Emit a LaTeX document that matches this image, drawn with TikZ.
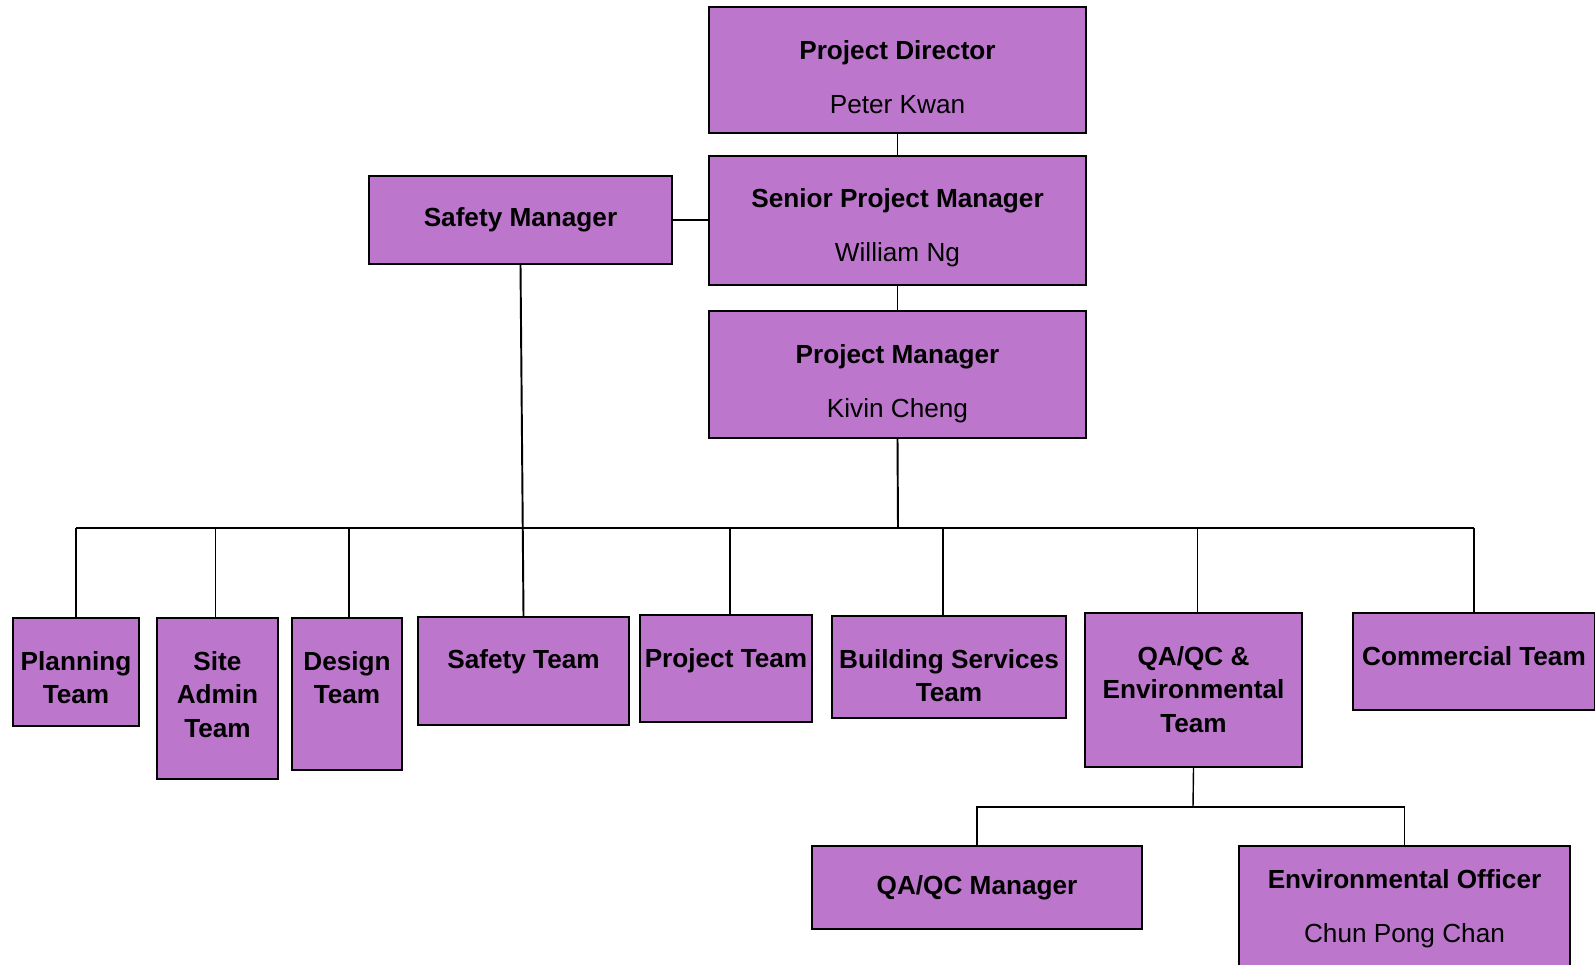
\documentclass[tikz,border=0pt]{standalone}
\usepackage{fontspec}
\setmainfont{Liberation Sans}
\usetikzlibrary{fit}
\definecolor{orgpurple}{RGB}{188,118,204}

\begin{document}
\begin{tikzpicture}[x=0.02cm, y=-0.02cm,
  box/.style={draw=black, fill=orgpurple, line width=1.3pt, inner sep=0pt},
  txt/.style={font=\fontsize{14.9}{19.2}\selectfont\bfseries, align=center, anchor=north, inner sep=0pt},
  link/.style={black, line width=1.1pt}]
\useasboundingbox (0,0) rectangle (1595,964);

% management boxes
\node[box, fit={(709,7) (1086,133)}] (pd) {};
\node[box, fit={(709,156) (1086,285)}] (spm) {};
\node[box, fit={(709,311) (1086,438)}] (pm) {};
\node[box, fit={(369,176) (672,264)}] (sm) {};

% team boxes
\node[box, fit={(13,618) (139,726)}] (plan) {};
\node[box, fit={(157,618) (278,779)}] (sa) {};
\node[box, fit={(292,618) (402,770)}] (des) {};
\node[box, fit={(418,617) (629,725)}] (st) {};
\node[box, fit={(640,615) (812,722)}] (pt) {};
\node[box, fit={(832,616) (1066,718)}] (bs) {};
\node[box, fit={(1085,613) (1302,767)}] (qe) {};
\node[box, fit={(1353,613) (1595,710)}] (com) {};
\node[box, fit={(812,846) (1142,929)}] (qm) {};
\node[box, fit={(1239,846) (1570,995)}] (eo) {};

% texts
\node[txt] (pd-t) at ([yshift=-0.68cm]pd.north) {Project Director\\[11.8pt]\mdseries Peter Kwan};
\node[txt] (spm-t) at ([yshift=-0.66cm]spm.north) {Senior Project Manager\\[11.8pt]\mdseries William Ng};
\node[txt] (pm-t) at ([yshift=-0.68cm]pm.north) {Project Manager\\[11.8pt]\mdseries Kivin Cheng};
\node[txt, anchor=center] (sm-t) at (sm) {Safety Manager};
\node[txt] (plan-t) at ([yshift=-0.68cm]plan.north) {Planning\\Team};
\node[txt] (sa-t) at ([yshift=-0.68cm]sa.north) {Site\\Admin\\Team};
\node[txt] (des-t) at ([yshift=-0.68cm]des.north) {Design\\Team};
\node[txt] (st-t) at ([yshift=-0.66cm]st.north) {Safety Team};
\node[txt] (pt-t) at ([yshift=-0.68cm]pt.north) {Project Team};
\node[txt] (bs-t) at ([yshift=-0.68cm]bs.north) {Building Services\\Team};
\node[txt] (qe-t) at ([yshift=-0.68cm]qe.north) {QA/QC \&\\Environmental\\Team};
\node[txt] (com-t) at ([yshift=-0.68cm]com.north) {Commercial Team};
\node[txt, anchor=center] (qm-t) at (qm) {QA/QC Manager};
\node[txt] (eo-t) at ([yshift=-0.48cm]eo.north) {Environmental Officer\\[11.8pt]\mdseries Chun Pong Chan};

% connectors
\coordinate (bus) at (898,528);
\coordinate (sub) at (1193,807);
\draw[link] (pd.south) -- (spm.north);
\draw[link] (spm.south) -- (pm.north);
\draw[link] (sm.east) -- (sm.east -| spm.west);
\draw[link] (pm.south) -- (bus);
\draw[link] (plan.north |- bus) -- (com.north |- bus);
\foreach \t/\dx in {plan/0, sa/-2, des/2, pt/4, bs/-6, qe/4, com/0}{
  \draw[link] ([xshift=\dx*0.02cm]\t.north) -- ([xshift=\dx*0.02cm]\t.north |- bus);
}
\draw[link] (sm.south) -- (st.north);
\draw[black, line width=0.8pt] (qe.south) -- (sub);
\draw[black, line width=0.8pt] (qm.north) |- (sub) -| (eo.north);
\end{tikzpicture}
\end{document}
